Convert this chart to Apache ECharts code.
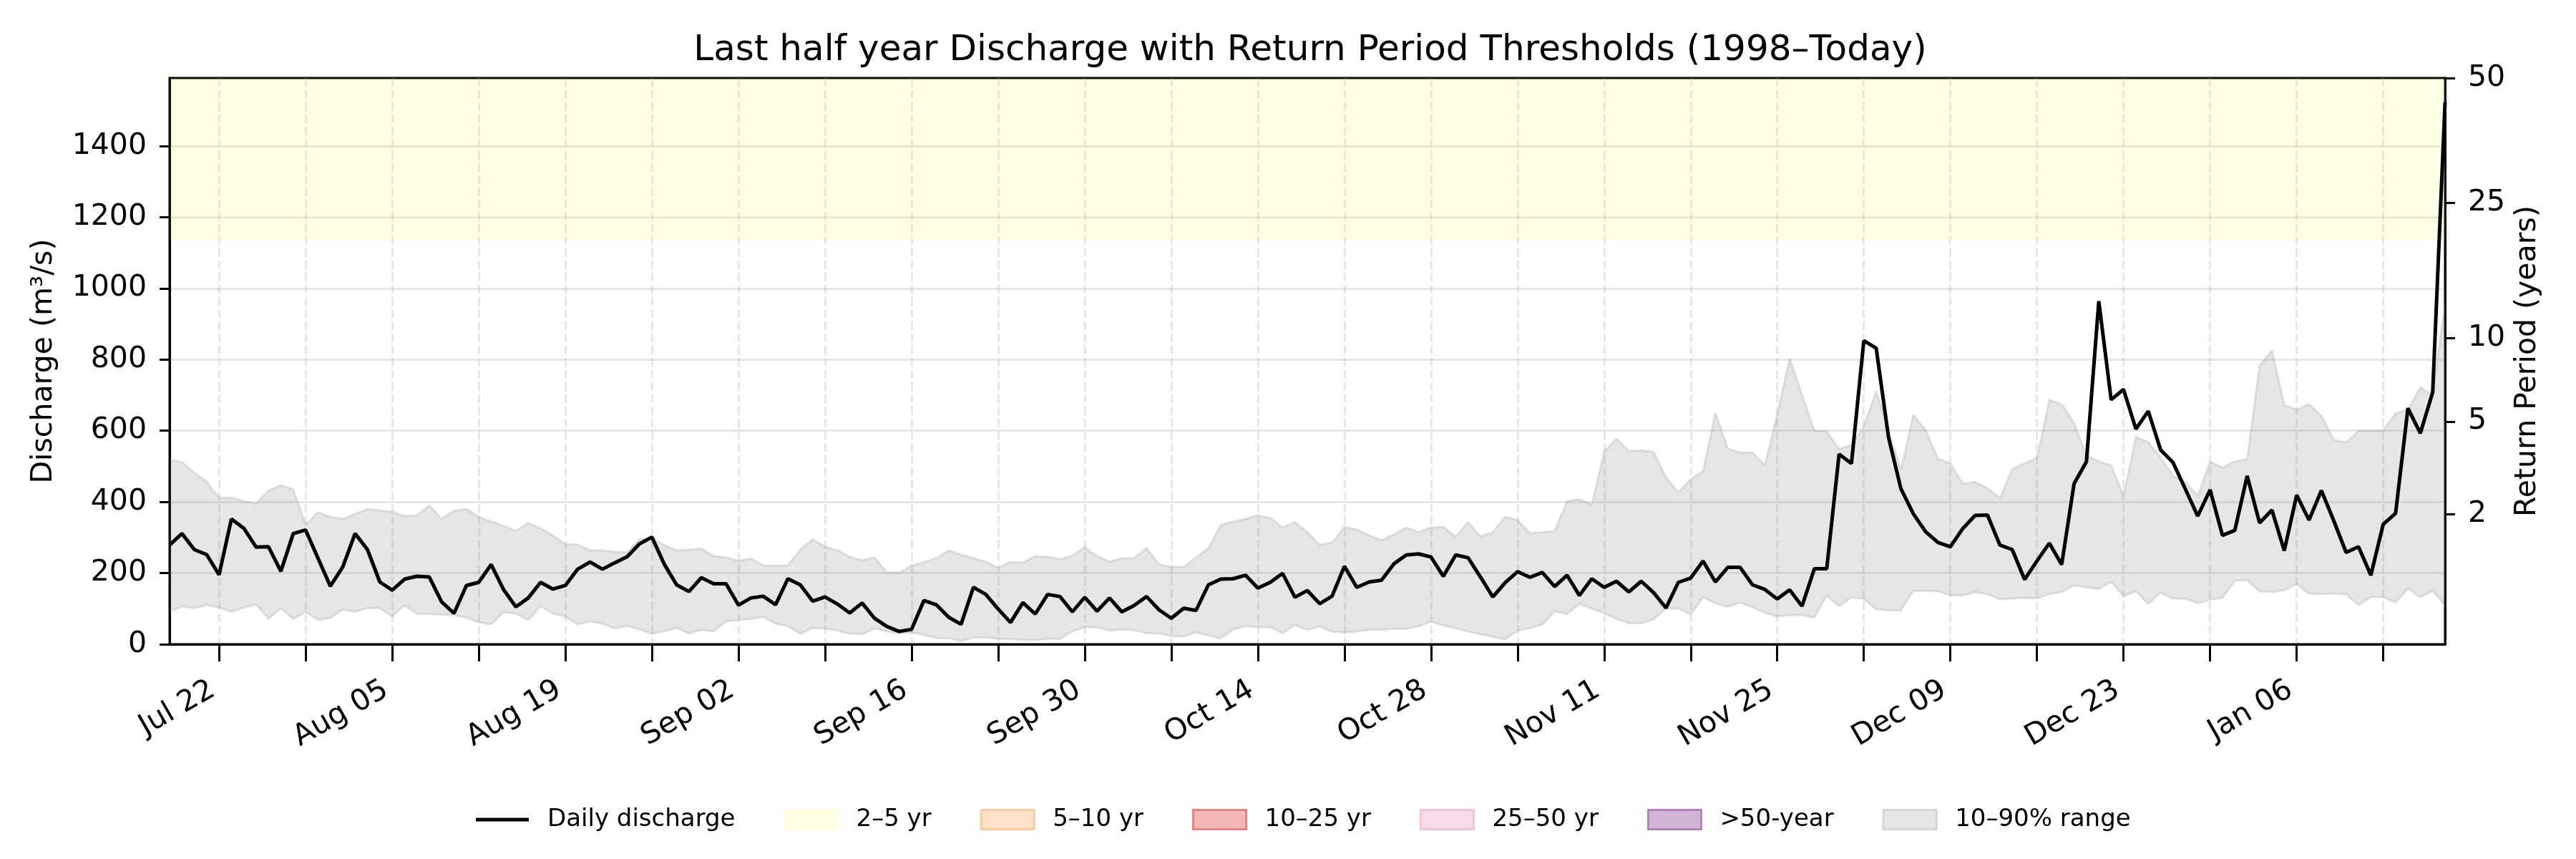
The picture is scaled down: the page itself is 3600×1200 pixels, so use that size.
<!DOCTYPE html>
<html><head><meta charset="utf-8">
<script src="https://cdn.jsdelivr.net/npm/echarts@6/dist/echarts.min.js"></script>
<style>html,body{margin:0;padding:0;background:#fff}#chart{width:3600px;height:1200px}</style>
</head><body><div id="chart"></div>
<script>
const FONT = 'DejaVu Sans';
const startYear = 2024, startMonth = 6, startDay = 18; // 2024-07-18
const monthNames = ['Jan','Feb','Mar','Apr','May','Jun','Jul','Aug','Sep','Oct','Nov','Dec'];

const discharge = [279,311,266,252,195,352,326,273,274,205,
 311,321,242,163,217,311,266,175,152,183,
 191,189,119,87,165,174,224,154,105,130,
 174,155,165,211,231,211,229,246,282,301,
 225,167,148,187,170,170,110,130,135,111,
 184,167,121,133,113,88,116,73,50,36,
 42,123,111,76,56,160,140,99,61,117,
 85,140,134,91,132,93,130,91,109,134,
 97,73,101,95,167,183,184,194,158,174,
 199,132,151,114,135,219,160,175,180,226,
 251,254,245,191,251,243,189,133,173,204,
 188,202,162,194,137,184,160,177,147,177,
 145,102,174,186,234,175,216,216,167,154,
 127,153,107,212,212,534,508,853,832,581,
 437,367,316,286,274,325,362,363,279,266,
 182,234,284,224,451,513,964,687,716,605,
 655,546,511,436,360,434,306,320,473,341,
 377,263,419,349,432,347,258,274,194,337,
 368,663,593,708,1523];

const q90 = [519,512,482,457,411,413,402,395,432,447,
 435,336,371,358,352,366,380,376,372,360,
 362,390,353,375,380,358,345,333,319,341,
 326,306,281,280,264,264,260,258,295,299,
 279,264,266,269,248,244,234,241,222,221,
 222,266,295,274,264,246,236,244,202,201,
 221,231,242,264,252,242,232,215,232,229,
 248,246,239,249,272,248,232,242,242,270,
 225,217,217,244,270,335,345,352,363,355,
 328,343,315,279,286,330,323,306,293,308,
 328,316,328,330,302,343,303,315,358,349,
 312,315,318,402,408,392,541,578,543,545,
 541,469,427,464,486,650,550,539,539,504,
 645,803,702,600,598,549,560,612,712,600,
 490,645,602,521,508,451,456,439,410,492,
 508,523,687,674,622,531,514,503,417,583,
 568,524,474,456,417,514,496,514,521,783,
 826,672,659,675,642,575,567,600,600,601,
 649,659,722,700,960];

const q10 = [91,106,101,110,103,91,103,111,71,101,
 71,91,68,74,97,91,101,101,78,109,
 85,85,83,83,74,62,56,90,86,68,
 107,86,78,56,64,58,44,52,41,29,
 36,46,30,40,36,64,68,71,77,58,
 51,29,46,44,38,29,28,44,36,31,
 33,26,17,17,9,19,19,15,14,12,
 11,15,15,36,48,48,38,41,39,31,
 30,23,21,34,24,16,41,51,48,48,
 31,54,40,50,35,33,36,40,40,43,
 43,51,63,53,45,35,28,21,14,38,
 45,55,92,85,113,100,88,71,59,59,
 70,100,100,84,131,115,105,117,104,88,
 78,82,82,75,137,107,132,127,98,95,
 95,150,150,149,137,137,147,140,126,128,
 130,128,141,147,165,160,155,175,135,149,
 113,145,128,128,115,125,130,178,180,149,
 147,152,169,142,141,143,140,110,132,133,
 117,157,132,150,108];

const yTicks = [0,200,400,600,800,1000,1200,1400];
const yMax = 1591;
const rpYears = [2,5,10,25,50];
const rpDischarge = [365,626,861,1241,1591];
const band2to5 = [1135, 1591];
const firstLabelMonday = '2024-07-22';

// category dates
const dates = discharge.map((_, i) => {
  const d = new Date(Date.UTC(startYear, startMonth, startDay + i));
  return d.toISOString().slice(0, 10);
});
const dayOfWeek = s => new Date(s + 'T00:00:00Z').getUTCDay();
const daysFrom = (a, b) => Math.round((new Date(b + 'T00:00:00Z') - new Date(a + 'T00:00:00Z')) / 86400000);
const isWeekTick = (idx) => dayOfWeek(dates[idx]) === 1;
const isLabelTick = (idx) => isWeekTick(idx) && ((daysFrom(firstLabelMonday, dates[idx]) % 14) + 14) % 14 === 0;
const fmtDate = s => { const d = new Date(s + 'T00:00:00Z'); return monthNames[d.getUTCMonth()] + ' ' + String(d.getUTCDate()).padStart(2, '0'); };

const gridCol = 'rgba(176,176,176,0.3)';
const bandCol = 'rgba(128,128,128,0.2)';
const lineIcon = 'path://M0,0 M0,11 L74,11 L74,16 L0,16 Z M74,27';

const chart = echarts.init(document.getElementById('chart'), null, {renderer: 'canvas'});
chart.setOption({
  animation: false,
  backgroundColor: '#fff',
  textStyle: {fontFamily: FONT},
  title: {
    text: 'Last half year Discharge with Return Period Thresholds (1998–Today)',
    left: 1826, textAlign: 'center', top: 41,
    textStyle: {fontFamily: FONT, fontSize: 50, fontWeight: 'normal', color: '#000'}
  },
  grid: {left: 237, right: 183, top: 109, bottom: 300, containLabel: false, outerBoundsMode: 'none',
    show: true, borderColor: '#000', borderWidth: 3, backgroundColor: 'transparent'},
  legend: {
    left: 665, top: 1128, padding: 0, itemWidth: 74, itemHeight: 27, itemGap: 68,
    selectedMode: false,
    textStyle: {fontFamily: FONT, fontSize: 34, color: '#000', padding: [0, 0, 0, 21]},
    data: [
      {name: 'Daily discharge', icon: lineIcon, itemStyle: {color: '#000', borderWidth: 0}},
      {name: '2–5 yr', icon: 'rect', itemStyle: {color: 'rgb(255,254,230)', borderColor: 'rgb(255,252,214)', borderWidth: 2}},
      {name: '5–10 yr', icon: 'rect', itemStyle: {color: 'rgb(254,227,200)', borderColor: 'rgb(252,203,156)', borderWidth: 3}},
      {name: '10–25 yr', icon: 'rect', itemStyle: {color: 'rgb(241,182,182)', borderColor: 'rgb(228,133,133)', borderWidth: 3}},
      {name: '25–50 yr', icon: 'rect', itemStyle: {color: 'rgb(246,220,234)', borderColor: 'rgb(240,196,220)', borderWidth: 3}},
      {name: '>50-year', icon: 'rect', itemStyle: {color: 'rgb(209,181,213)', borderColor: 'rgb(178,131,186)', borderWidth: 3}},
      {name: '10–90% range', icon: 'rect', itemStyle: {color: 'rgb(230,230,230)', borderColor: 'rgb(214,214,214)', borderWidth: 3}}
    ]
  },
  xAxis: {
    type: 'category', data: dates, boundaryGap: false,
    axisLine: {show: true, lineStyle: {color: '#000', width: 3}},
    axisTick: {show: true, length: 24, interval: (i) => isWeekTick(i), lineStyle: {color: '#000', width: 3}},
    axisLabel: {interval: (i) => isLabelTick(i), rotate: 30, fontSize: 41, margin: 56, padding: [0, 10, 0, 0],
      color: '#000', fontFamily: FONT, formatter: v => fmtDate(v)},
    splitLine: {show: true, interval: (i) => isWeekTick(i), lineStyle: {type: [12, 5], color: gridCol, width: 3}}
  },
  yAxis: [
    {
      type: 'value', min: 0, max: yMax, interval: 200, position: 'left',
      name: 'Discharge (m³/s)', nameLocation: 'middle', nameGap: 155, nameRotate: 90,
      nameTextStyle: {fontFamily: FONT, fontSize: 41, color: '#000'},
      axisLine: {show: true, lineStyle: {color: '#000', width: 3}},
      axisTick: {show: true, length: 14, customValues: yTicks, lineStyle: {color: '#000', width: 3}},
      axisLabel: {customValues: yTicks, fontSize: 41, color: '#000', margin: 32, fontFamily: FONT,
        formatter: v => String(Math.round(v))},
      splitLine: {show: true, lineStyle: {color: gridCol, width: 3}}
    },
    {
      type: 'value', min: 0, max: yMax, position: 'right',
      name: 'Return Period (years)', nameLocation: 'middle', nameGap: 95, nameRotate: 90,
      nameTextStyle: {fontFamily: FONT, fontSize: 41, color: '#000'},
      axisLine: {show: true, lineStyle: {color: '#000', width: 3}},
      axisTick: {show: true, length: 14, customValues: rpDischarge, lineStyle: {color: '#000', width: 3}},
      axisLabel: {customValues: rpDischarge, fontSize: 41, color: '#000', margin: 32, fontFamily: FONT,
        formatter: v => { const k = rpDischarge.indexOf(v); return k >= 0 ? String(rpYears[k]) : ''; }},
      splitLine: {show: false}
    }
  ],
  series: [
    {name: '2–5 yr', type: 'line', data: dates.map(() => null), symbol: 'none', silent: true, z: 1,
      lineStyle: {width: 0}, itemStyle: {color: 'rgb(255,254,230)'},
      markArea: {silent: true, itemStyle: {color: 'rgba(255,255,0,0.1)'},
        data: [[{yAxis: band2to5[0]}, {yAxis: band2to5[1]}]]}},
    {name: '5–10 yr', type: 'line', data: [], itemStyle: {color: 'rgb(254,227,200)'}},
    {name: '10–25 yr', type: 'line', data: [], itemStyle: {color: 'rgb(241,182,182)'}},
    {name: '25–50 yr', type: 'line', data: [], itemStyle: {color: 'rgb(246,220,234)'}},
    {name: '>50-year', type: 'line', data: [], itemStyle: {color: 'rgb(209,181,213)'}},
    {name: 'q10', type: 'line', data: q10, stack: 'band', symbol: 'none', silent: true, z: 2,
      lineStyle: {color: bandCol, width: 3}},
    {name: '10–90% range', type: 'line', data: q90.map((v, i) => v - q10[i]), stack: 'band', symbol: 'none', silent: true, z: 2,
      itemStyle: {color: 'rgb(230,230,230)'},
      lineStyle: {color: bandCol, width: 3}, areaStyle: {color: bandCol, opacity: 1}},
    {name: 'Daily discharge', type: 'line', data: discharge, symbol: 'none', z: 5,
      itemStyle: {color: '#000'}, lineStyle: {color: '#000', width: 5}}
  ]
});
</script></body></html>
